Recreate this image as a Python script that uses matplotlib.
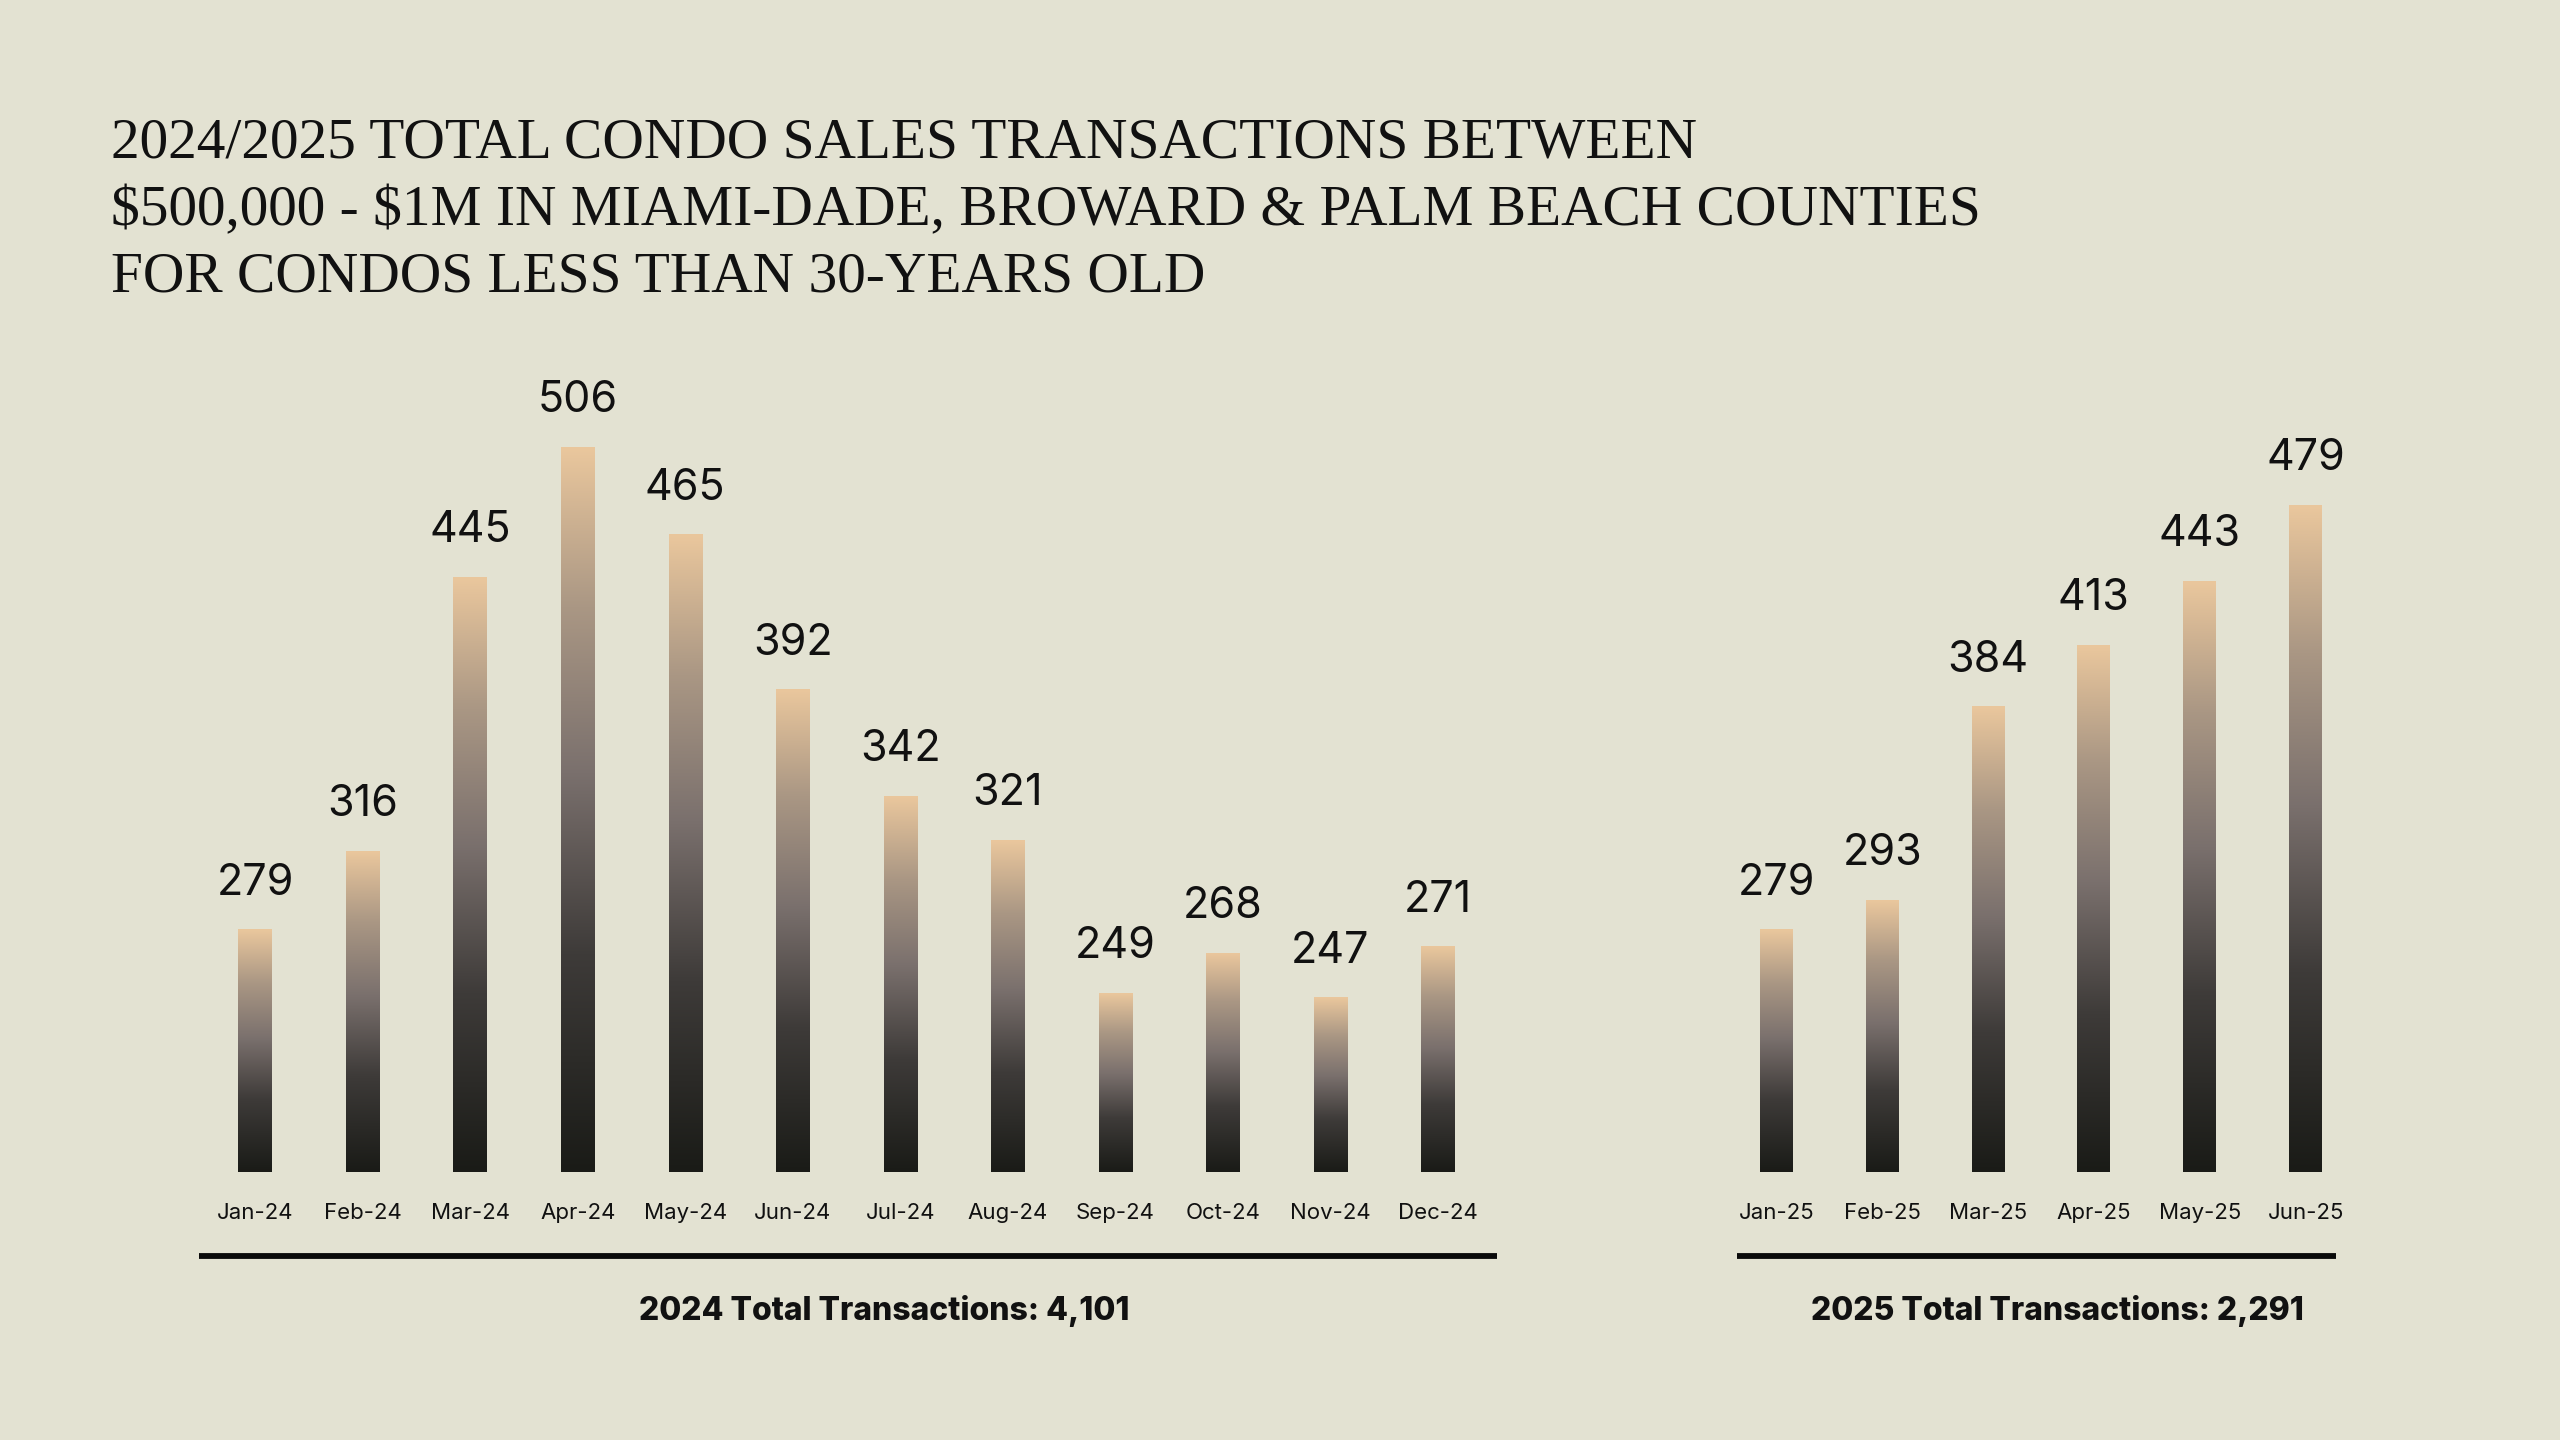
import matplotlib.pyplot as plt
import numpy as np
from matplotlib.colors import LinearSegmentedColormap

# data
months_2024 = ["Jan-24", "Feb-24", "Mar-24", "Apr-24", "May-24", "Jun-24",
               "Jul-24", "Aug-24", "Sep-24", "Oct-24", "Nov-24", "Dec-24"]
sales_2024 = [279, 316, 445, 506, 465, 392, 342, 321, 249, 268, 247, 271]
months_2025 = ["Jan-25", "Feb-25", "Mar-25", "Apr-25", "May-25", "Jun-25"]
sales_2025 = [279, 293, 384, 413, 443, 479]
total_2024 = "2024 Total Transactions: 4,101"
total_2025 = "2025 Total Transactions: 2,291"
title_lines = ["2024/2025 TOTAL CONDO SALES TRANSACTIONS BETWEEN",
               "$500,000 - $1M IN MIAMI-DADE, BROWARD & PALM BEACH COUNTIES",
               "FOR CONDOS LESS THAN 30-YEARS OLD"]

BG = "#E3E2D2"
BASE = 165          # the bars do not start at zero in the original
TOP = 525
SANS = ["Inter", "DejaVu Sans"]

cmap = LinearSegmentedColormap.from_list(
    "bar", [(0.0, "#1A1B17"), (0.3, "#3E3B39"), (0.55, "#7A706D"),
            (0.78, "#AA9784"), (1.0, "#EAC79D")])
grad = np.linspace(0, 1, 256).reshape(-1, 1)

fig = plt.figure(figsize=(25.6, 14.4), dpi=100, facecolor=BG)

for i, line in enumerate(title_lines):
    fig.text(0.0434, 0.900 - i * 0.0465, line, family="Liberation Serif",
             fontsize=41.3, color="#111111", ha="left", va="center",
             parse_math=False)


def panel(rect, labels, values, total, xlim, total_x):
    ax = fig.add_axes(rect)
    ax.set_facecolor("none")
    x = np.arange(len(values))
    bars = ax.bar(x, np.array(values) - BASE, bottom=BASE, width=0.31,
                  color="none", edgecolor="none")
    for b, v in zip(bars, values):
        x0, y0 = b.get_x(), b.get_y()
        ax.imshow(grad, cmap=cmap, origin="lower", aspect="auto",
                  extent=(x0, x0 + b.get_width(), y0, y0 + b.get_height()),
                  interpolation="bicubic", zorder=2)
        ax.annotate(str(v), (b.get_x() + b.get_width() / 2, v),
                    xytext=(0, 19), textcoords="offset points",
                    ha="center", va="bottom", fontsize=31,
                    family=SANS, color="#111111")
    ax.set_xlim(*xlim)
    ax.set_ylim(BASE, TOP)
    ax.set_xticks(x)
    ax.set_xticklabels(labels, family=SANS, fontsize=16, color="#111111")
    ax.tick_params(axis="x", length=0, pad=22)
    ax.set_yticks([])
    for s in ax.spines.values():
        s.set_visible(False)
    ax.plot([0, 1], [-0.109, -0.109], transform=ax.transAxes,
            color="#0A0A0A", lw=4.2, clip_on=False, solid_capstyle="butt")
    ax.text(total_x, -0.182, total, transform=ax.transAxes, ha="center",
            va="center", fontsize=23, fontweight="heavy", family=SANS,
            color="#111111")
    return ax


panel([0.0778, 0.186, 0.507, 0.531], months_2024, sales_2024, total_2024,
      (-0.52, 11.55), 0.528)
panel([0.6786, 0.186, 0.234, 0.531], months_2025, sales_2025, total_2025,
      (-0.37, 5.29), 0.535)

fig.savefig("out.png", dpi=100, facecolor=BG)
